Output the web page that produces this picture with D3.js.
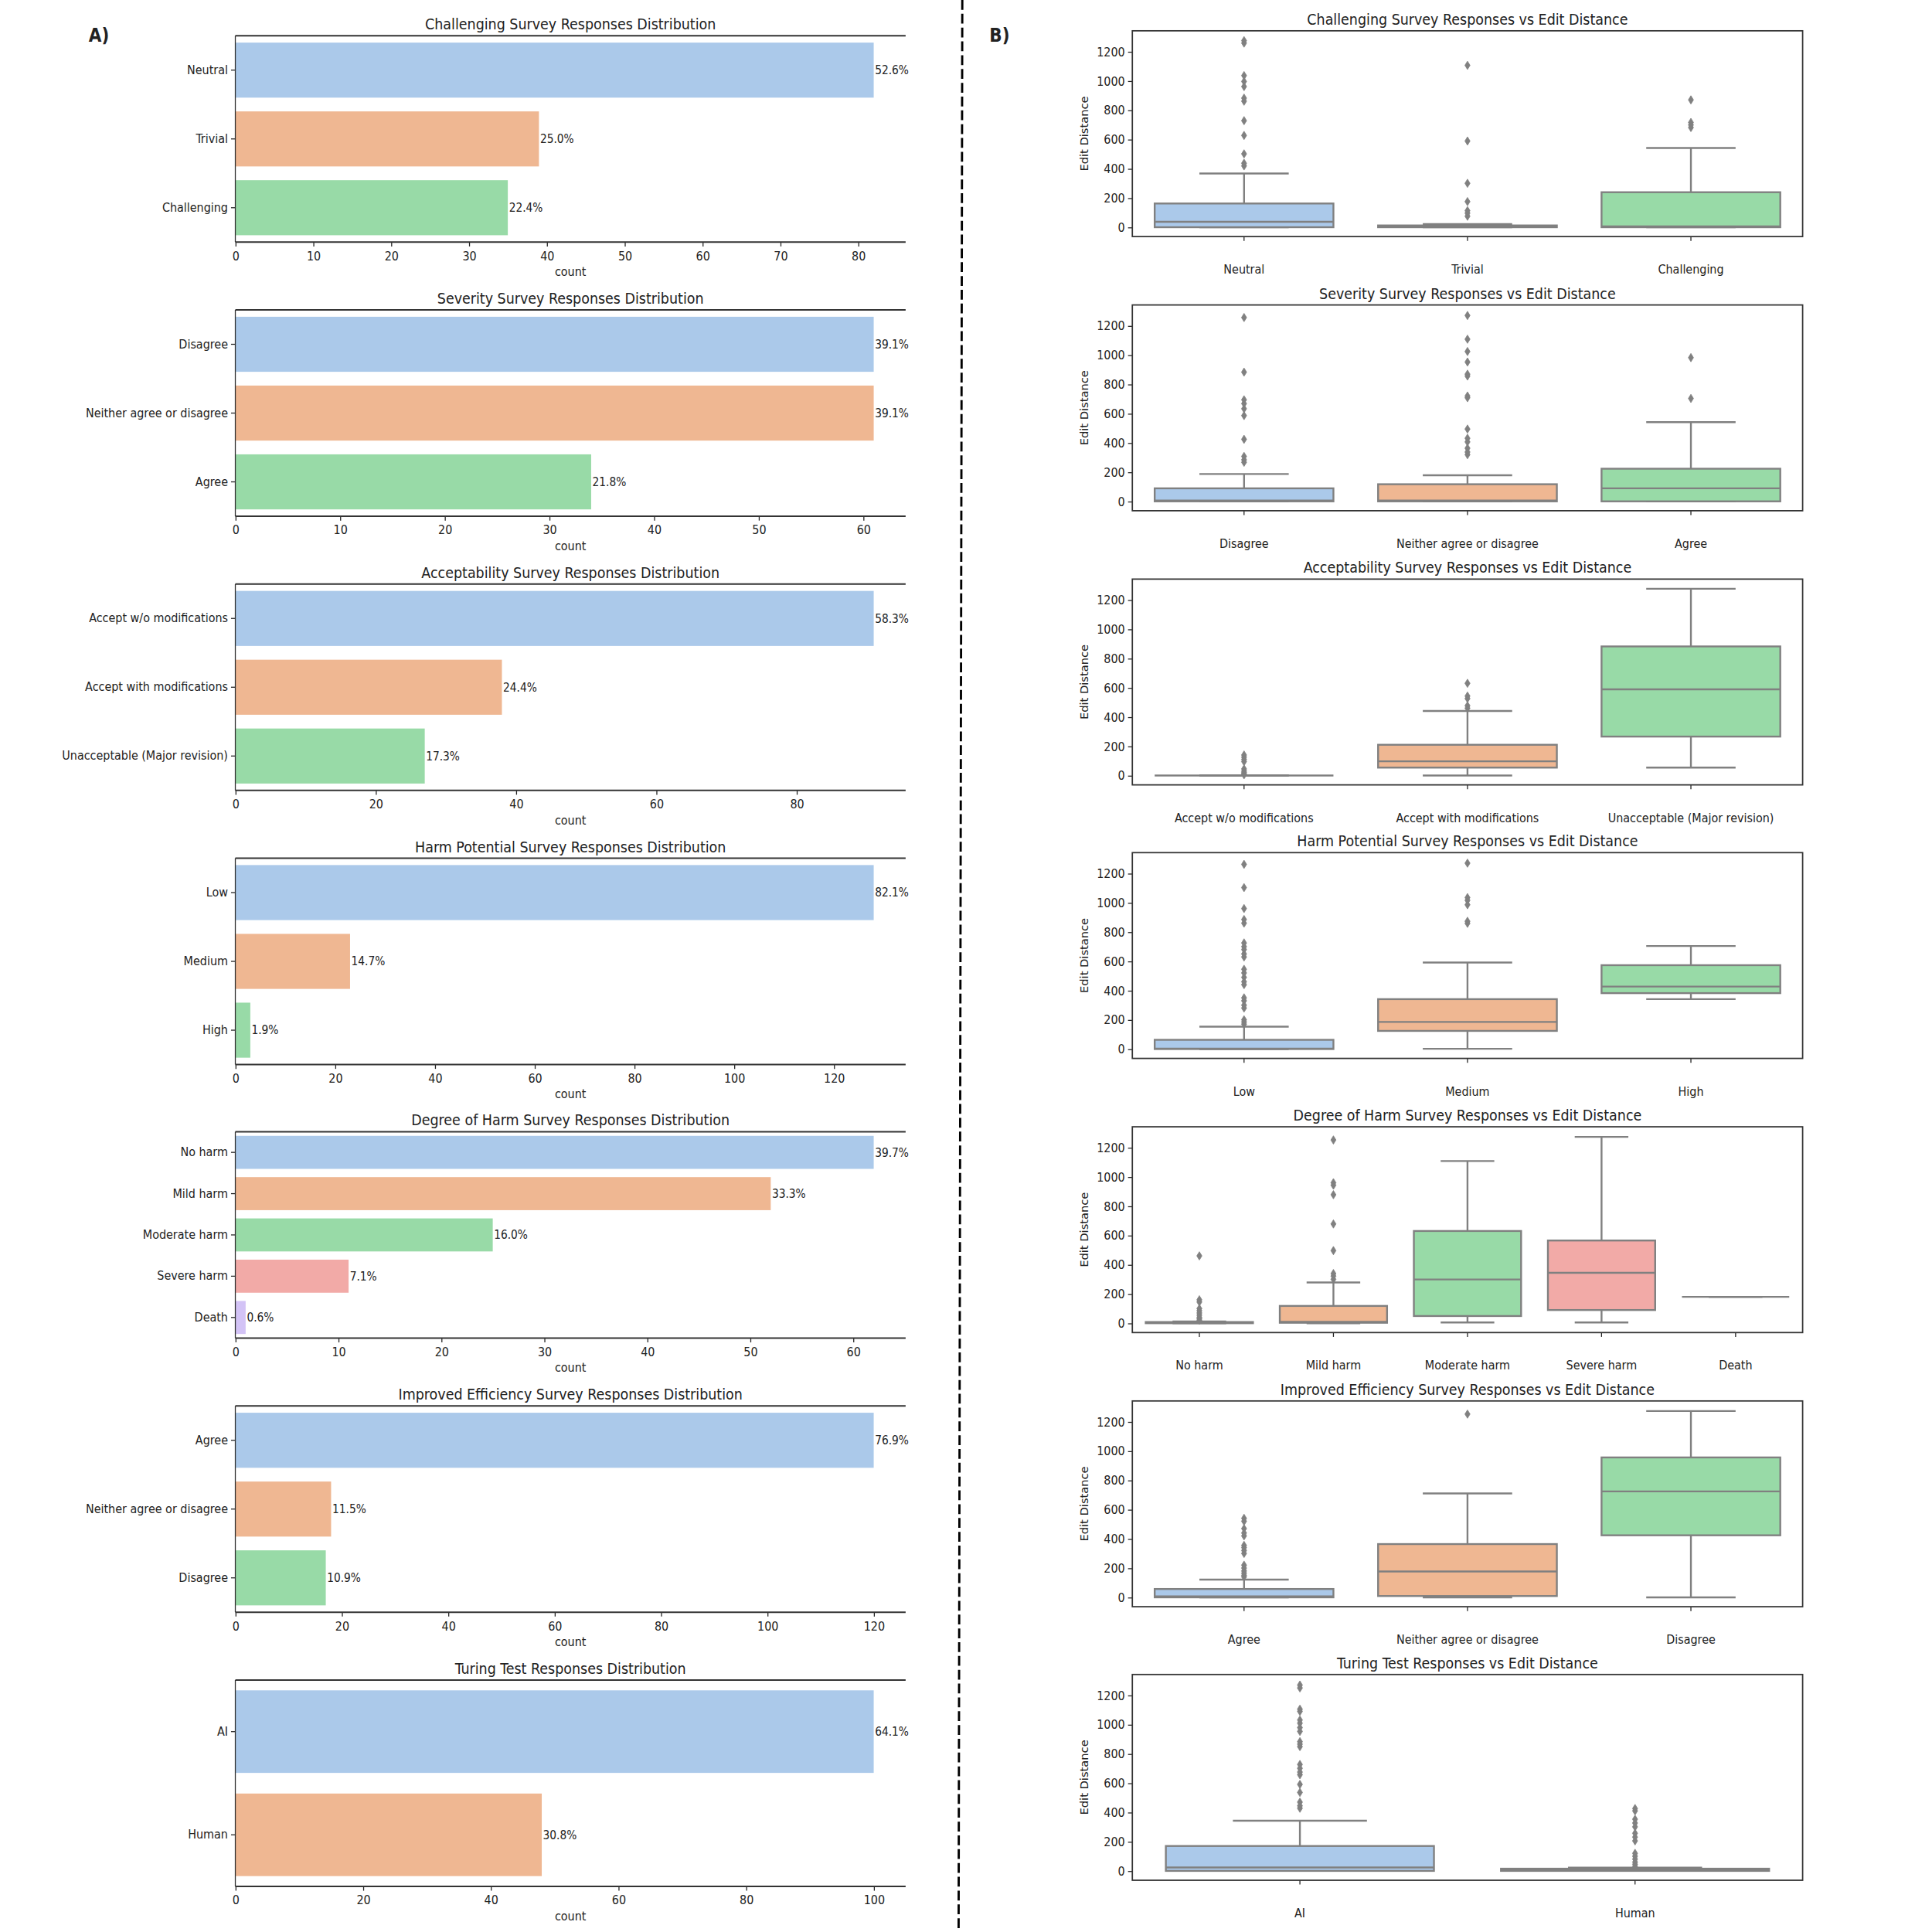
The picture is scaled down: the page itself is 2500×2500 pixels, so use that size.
<!DOCTYPE html>
<html>
<head>
<meta charset="utf-8">
<script src="https://cdn.jsdelivr.net/npm/d3@7"></script>
<style>
  body { margin: 0; background: #fff; }
  text { font-family: "DejaVu Sans Condensed", "DejaVu Sans", sans-serif; font-stretch: condensed; fill: #222; }
  .ylab { font-family: "DejaVu Sans", sans-serif; font-stretch: normal; }
</style>
</head>
<body>
<svg id="chart"></svg>
<script>
// ---- panel A: counts per response ----
const titlesA = [
  "Challenging Survey Responses Distribution",
  "Severity Survey Responses Distribution",
  "Acceptability Survey Responses Distribution",
  "Harm Potential Survey Responses Distribution",
  "Degree of Harm Survey Responses Distribution",
  "Improved Efficiency Survey Responses Distribution",
  "Turing Test Responses Distribution"
];
const titlesB = [
  "Challenging Survey Responses vs Edit Distance",
  "Severity Survey Responses vs Edit Distance",
  "Acceptability Survey Responses vs Edit Distance",
  "Harm Potential Survey Responses vs Edit Distance",
  "Degree of Harm Survey Responses vs Edit Distance",
  "Improved Efficiency Survey Responses vs Edit Distance",
  "Turing Test Responses vs Edit Distance"
];

const challengingCats = ["Neutral", "Trivial", "Challenging"];
const severityCats = ["Disagree", "Neither agree or disagree", "Agree"];
const acceptCats = ["Accept w/o modifications", "Accept with modifications", "Unacceptable (Major revision)"];
const harmPotCats = ["Low", "Medium", "High"];
const degreeCats = ["No harm", "Mild harm", "Moderate harm", "Severe harm", "Death"];
const efficiencyCats = ["Agree", "Neither agree or disagree", "Disagree"];
const turingCats = ["AI", "Human"];

const challengingCounts = [82, 39, 35];
const severityCounts = [61, 61, 34];
const acceptCounts = [91, 38, 27];
const harmPotCounts = [128, 23, 3];
const degreeCounts = [62, 52, 25, 11, 1];
const efficiencyCounts = [120, 18, 17];
const turingCounts = [100, 48];

const challengingPct = ["52.6%", "25.0%", "22.4%"];
const severityPct = ["39.1%", "39.1%", "21.8%"];
const acceptPct = ["58.3%", "24.4%", "17.3%"];
const harmPotPct = ["82.1%", "14.7%", "1.9%"];
const degreePct = ["39.7%", "33.3%", "16.0%", "7.1%", "0.6%"];
const efficiencyPct = ["76.9%", "11.5%", "10.9%"];
const turingPct = ["64.1%", "30.8%"];

const countTickSteps = [10, 10, 20, 20, 10, 20, 20];

// ---- panel B: edit distance box stats [whiskerLow, q1, median, q3, whiskerHigh] ----
const challengingBox = [[0, 0, 37, 162, 367], [0, 0, 5, 12, 21], [0, 0, 5, 239, 541]];
const challengingOut = [
  [1275, 1258, 1036, 996, 961, 882, 861, 728, 627, 501, 437, 419],
  [1106, 589, 300, 175, 113, 96, 75],
  [870, 716, 699, 681]
];
const severityBox = [[0, 0, 5, 89, 187], [0, 0, 5, 117, 178], [0, 0, 89, 223, 541]];
const severityOut = [
  [1256, 883, 694, 668, 633, 586, 424, 307, 284, 267],
  [1270, 1108, 1024, 952, 869, 856, 720, 708, 494, 431, 406, 363, 337, 319],
  [982, 703]
];
const acceptBox = [[0, 0, 0, 0, 0], [0, 54, 97, 210, 441], [54, 266, 589, 882, 1276]];
const acceptOut = [
  [5, 12, 20, 30, 45, 95, 110, 125, 140],
  [630, 543, 526, 477, 460],
  []
];
const harmPotBox = [[0, 0, 3, 63, 153], [2, 124, 185, 341, 591], [341, 382, 427, 573, 704]];
const harmPotOut = [
  [1262, 1103, 960, 885, 860, 725, 700, 680, 650, 629, 545, 520, 490, 460, 440, 350, 330, 300, 280, 200, 185, 170],
  [1270, 1035, 1016, 986, 873, 859],
  []
];
const degreeBox = [[0, 0, 5, 8, 12], [0, 3, 9, 118, 278], [5, 49, 299, 630, 1108], [5, 90, 344, 565, 1273], [180, 180, 180, 180, 180]];
const degreeOut = [
  [460, 160, 145, 100, 85, 70, 55, 40, 30, 20],
  [1252, 960, 943, 878, 678, 496, 339, 322, 300],
  [],
  [],
  []
];
const efficiencyBox = [[0, 0, 7, 57, 121], [0, 9, 177, 364, 710], [0, 424, 724, 956, 1273]];
const efficiencyOut = [
  [540, 520, 470, 440, 420, 355, 340, 320, 300, 220, 200, 180, 165, 150, 140],
  [1252],
  []
];
const turingBox = [[0, 0, 23, 170, 343], [0, 0, 8, 15, 22]];
const turingOut = [
  [1270, 1250, 1105, 1090, 1031, 1009, 979, 953, 883, 866, 849, 727, 701, 675, 657, 591, 536, 470, 445, 428],
  [426, 410, 353, 327, 301, 257, 231, 205, 120, 100, 80, 60, 45, 30]
];
const editTicks = [0, 200, 400, 600, 800, 1000, 1200];

const palette = ["#abc9ea", "#efb792", "#98daa7", "#f2aaa7", "#d3c3f6"];

const catsList = [challengingCats, severityCats, acceptCats, harmPotCats, degreeCats, efficiencyCats, turingCats];
const countsList = [challengingCounts, severityCounts, acceptCounts, harmPotCounts, degreeCounts, efficiencyCounts, turingCounts];
const pctList = [challengingPct, severityPct, acceptPct, harmPotPct, degreePct, efficiencyPct, turingPct];
const boxList = [challengingBox, severityBox, acceptBox, harmPotBox, degreeBox, efficiencyBox, turingBox];
const outList = [challengingOut, severityOut, acceptOut, harmPotOut, degreeOut, efficiencyOut, turingOut];

const W = 2500, H = 2500;
const S = W / 1568;
const tickFont = 10, titleFont = 12.2;

const svg = d3.select("#chart").attr("width", W).attr("height", H);
svg.append("rect").attr("width", W).attr("height", H).attr("fill", "#fff");
const root = svg.append("g").attr("transform", `scale(${S})`);

const leftTops = [29, 251.5, 474, 696.5, 918.5, 1141, 1363.5];
const rightTops = [25, 247.5, 470, 692, 914.5, 1137, 1359];
const panelH = 167.5;

function drawBars(i) {
  const top = leftTops[i], bottom = top + panelH;
  const cats = catsList[i], counts = countsList[i], pcts = pctList[i];
  const g = root.append("g");

  const x = d3.scaleLinear().domain([0, d3.max(counts) * 1.05]).range([191, 735]);
  const y = d3.scaleBand().domain(cats).range([top, bottom]).paddingInner(0.2).paddingOuter(0.1);

  g.selectAll("rect.bar")
    .data(cats)
    .enter()
    .append("rect")
    .attr("x", x(0))
    .attr("y", d => y(d))
    .attr("width", (d, j) => x(counts[j]) - x(0))
    .attr("height", y.bandwidth())
    .attr("fill", (d, j) => palette[j]);

  g.selectAll("text.pct")
    .data(cats)
    .enter()
    .append("text")
    .attr("x", (d, j) => x(counts[j]) + 1)
    .attr("y", d => y(d) + y.bandwidth() / 2)
    .attr("dy", "0.35em")
    .attr("font-size", 9.6)
    .text((d, j) => pcts[j]);

  const ticks = d3.range(0, x.domain()[1], countTickSteps[i]);
  const xAxis = g.append("g")
    .attr("transform", `translate(0,${bottom})`)
    .call(d3.axisBottom(x).tickValues(ticks).tickFormat(d3.format("d")).tickSize(3.5).tickPadding(4));
  xAxis.select(".domain").remove();
  xAxis.selectAll("line").attr("stroke", "#222").attr("stroke-width", 0.8);
  xAxis.selectAll("text").attr("font-size", tickFont).attr("font-family", null);

  const yAxis = g.append("g")
    .attr("transform", `translate(${x(0)},0)`)
    .call(d3.axisLeft(y).tickSize(3.5).tickPadding(2.5));
  yAxis.select(".domain").remove();
  yAxis.selectAll("line").attr("stroke", "#222").attr("stroke-width", 0.8);
  yAxis.selectAll("text").attr("font-size", tickFont).attr("font-family", null);

  // spines: top, bottom, left
  g.append("line").attr("x1", 191).attr("x2", 735).attr("y1", top).attr("y2", top)
    .attr("stroke", "#333").attr("stroke-width", 1.3);
  g.append("line").attr("x1", 191).attr("x2", 735).attr("y1", bottom).attr("y2", bottom)
    .attr("stroke", "#333").attr("stroke-width", 1.3);
  g.append("line").attr("x1", 191).attr("x2", 191).attr("y1", top).attr("y2", bottom)
    .attr("stroke", "#333").attr("stroke-width", 0.8);

  g.append("text")
    .attr("x", 463).attr("y", top - 5)
    .attr("text-anchor", "middle")
    .attr("font-size", titleFont)
    .text(titlesA[i]);

  g.append("text")
    .attr("x", 463).attr("y", bottom + 27.5)
    .attr("text-anchor", "middle")
    .attr("font-size", tickFont)
    .text("count");
}

function drawBoxes(i) {
  const top = rightTops[i], bottom = top + 167;
  const cats = catsList[i], stats = boxList[i], outs = outList[i];
  const g = root.append("g");
  const gray = "#808080";

  const x = d3.scaleBand().domain(cats).range([919, 1463]);
  const y = d3.scaleLinear().domain([-64, 1342]).range([bottom, top]);
  const bw = x.bandwidth() * 0.8;

  cats.forEach((c, j) => {
    const [lo, q1, med, q3, hi] = stats[j];
    const cx = x(c) + x.bandwidth() / 2;
    const bg = g.append("g");
    bg.append("line").attr("x1", cx).attr("x2", cx).attr("y1", y(q3)).attr("y2", y(hi))
      .attr("stroke", gray).attr("stroke-width", 1.5);
    bg.append("line").attr("x1", cx).attr("x2", cx).attr("y1", y(q1)).attr("y2", y(lo))
      .attr("stroke", gray).attr("stroke-width", 1.5);
    bg.append("line").attr("x1", cx - bw / 4).attr("x2", cx + bw / 4).attr("y1", y(hi)).attr("y2", y(hi))
      .attr("stroke", gray).attr("stroke-width", 1.5);
    bg.append("line").attr("x1", cx - bw / 4).attr("x2", cx + bw / 4).attr("y1", y(lo)).attr("y2", y(lo))
      .attr("stroke", gray).attr("stroke-width", 1.5);
    bg.append("rect")
      .attr("x", cx - bw / 2).attr("width", bw)
      .attr("y", y(q3)).attr("height", Math.max(0, y(q1) - y(q3)))
      .attr("fill", palette[j]).attr("stroke", gray).attr("stroke-width", 1.5);
    bg.append("line").attr("x1", cx - bw / 2).attr("x2", cx + bw / 2).attr("y1", y(med)).attr("y2", y(med))
      .attr("stroke", gray).attr("stroke-width", 1.5);

    bg.selectAll("path.out")
      .data(outs[j])
      .enter()
      .append("path")
      .attr("d", d => {
        const py = y(d);
        return `M${cx},${py - 3.4}L${cx + 2.1},${py}L${cx},${py + 3.4}L${cx - 2.1},${py}Z`;
      })
      .attr("fill", gray).attr("stroke", gray).attr("stroke-width", 0.5);
  });

  const xAxis = g.append("g")
    .attr("transform", `translate(0,${bottom})`)
    .call(d3.axisBottom(x).tickSize(3.5).tickPadding(19.5));
  xAxis.select(".domain").remove();
  xAxis.selectAll("line").attr("stroke", "#222").attr("stroke-width", 0.8);
  xAxis.selectAll("text").attr("font-size", tickFont).attr("font-family", null);

  const yAxis = g.append("g")
    .attr("transform", `translate(919,0)`)
    .call(d3.axisLeft(y).tickValues(editTicks).tickFormat(d3.format("d")).tickSize(3.5).tickPadding(2.5));
  yAxis.select(".domain").remove();
  yAxis.selectAll("line").attr("stroke", "#222").attr("stroke-width", 0.8);
  yAxis.selectAll("text").attr("font-size", tickFont).attr("font-family", null);

  g.append("rect")
    .attr("x", 919).attr("y", top).attr("width", 1463 - 919).attr("height", bottom - top)
    .attr("fill", "none").attr("stroke", "#333").attr("stroke-width", 1.1);

  g.append("text")
    .attr("x", (919 + 1463) / 2).attr("y", top - 5)
    .attr("text-anchor", "middle")
    .attr("font-size", titleFont)
    .text(titlesB[i]);

  g.append("text")
    .attr("class", "ylab")
    .attr("transform", `translate(883,${(top + bottom) / 2}) rotate(-90)`)
    .attr("text-anchor", "middle")
    .attr("font-size", 9.2)
    .text("Edit Distance");
}

for (let i = 0; i < 7; i++) {
  drawBars(i);
  drawBoxes(i);
}

root.append("text").attr("x", 72).attr("y", 34)
  .attr("font-size", 15).attr("font-weight", "bold").text("A)");
root.append("text").attr("x", 803).attr("y", 34)
  .attr("font-size", 15).attr("font-weight", "bold").text("B)");

root.append("line")
  .attr("x1", 781).attr("y1", 0).attr("x2", 778).attr("y2", 1568)
  .attr("stroke", "#000").attr("stroke-width", 1.8).attr("stroke-dasharray", "8,3.2");
</script>
</body>
</html>
